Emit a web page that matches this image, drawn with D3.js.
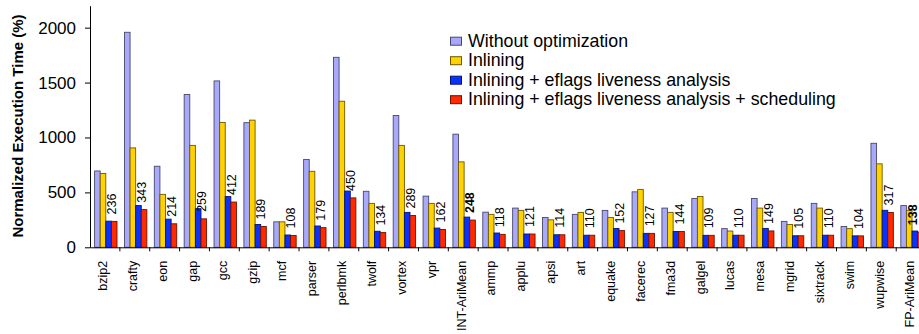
<!DOCTYPE html>
<html>
<head>
<meta charset="utf-8">
<script src="https://cdn.jsdelivr.net/npm/d3@7"></script>
<style>
  body { margin: 0; background: #fff; }
  svg { display: block; }
  text { font-family: "Liberation Sans", Arial, sans-serif; fill: #000; }
</style>
</head>
<body>
<svg id="chart" width="919" height="334"></svg>
<script>
// Benchmarks (SPEC CPU2000 integer + floating point, with arithmetic means)
const benchmarks = ["bzip2", "crafty", "eon", "gap", "gcc", "gzip", "mcf", "parser", "perlbmk",
  "twolf", "vortex", "vpr", "INT-AriMean", "ammp", "applu", "apsi", "art", "equake", "facerec",
  "fma3d", "galgel", "lucas", "mesa", "mgrid", "sixtrack", "swim", "wupwise", "FP-AriMean"];

const seriesNames = ["Without optimization", "Inlining", "Inlining + eflags liveness analysis",
  "Inlining + eflags liveness analysis + scheduling"];

// Normalized execution time (%) per configuration
const withoutOpt = [695, 1958, 738, 1392, 1515, 1135, 232, 800, 1730, 510, 1200, 466, 1030,
  320, 357, 272, 300, 336, 505, 357, 445, 170, 445, 236, 400, 190, 947, 380];
const inlining = [672, 905, 482, 928, 1137, 1158, 232, 692, 1330, 400, 928, 400, 778,
  300, 336, 250, 318, 272, 527, 318, 463, 148, 357, 208, 357, 170, 760, 337];
const inliningLiveness = [238, 380, 256, 352, 462, 208, 112, 194, 512, 146, 318, 175, 275,
  130, 121, 114, 110, 172, 127, 144, 109, 110, 172, 105, 110, 104, 337, 148];
const inliningLivenessSched = [236, 343, 214, 259, 412, 189, 108, 179, 450, 134, 289, 162, 248,
  118, 121, 114, 110, 152, 127, 144, 109, 110, 149, 105, 110, 104, 317, 138];

const seriesColors = ["#a9a9fb", "#ffd200", "#0a32ff", "#ff2a00"];
const meanNames = ["INT-AriMean", "FP-AriMean"];
const yTicks = [0, 500, 1000, 1500, 2000];

const seriesValues = [withoutOpt, inlining, inliningLiveness, inliningLivenessSched];

const W = 919;
const svg = d3.select("#chart");

const x = d3.scaleBand()
  .domain(benchmarks)
  .range([90, 90 + benchmarks.length * 29.86])
  .padding(0);

const xs = d3.scaleBand()
  .domain(d3.range(seriesNames.length))
  .range([4.6, 4.6 + 22.4]);

const y = d3.scaleLinear()
  .domain([0, 2200])
  .range([247.3, 5.7]);

// Bars
const groups = svg.append("g").attr("class", "bars")
  .selectAll("g")
  .data(seriesValues)
  .join("g")
  .attr("fill", (d, i) => seriesColors[i])
  .attr("stroke", (d, i) => d3.color(seriesColors[i]).darker(2.4))
  .attr("stroke-width", 0.9);

groups.each(function (vals, si) {
  d3.select(this).selectAll("rect")
    .data(vals.map((v, i) => ({ name: benchmarks[i], v })))
    .join("rect")
    .attr("x", d => x(d.name) + xs(si))
    .attr("y", d => y(d.v))
    .attr("width", xs.bandwidth())
    .attr("height", d => y(0) - y(d.v));
});

// Value labels for the fully optimized configuration (kept inside the right edge)
svg.append("g").attr("class", "value-labels")
  .selectAll("text")
  .data(benchmarks.map((name, i) => ({ name, v: inliningLivenessSched[i] })))
  .join("text")
  .attr("transform", d => {
    const cx = Math.min(x(d.name) + xs(3) + xs.bandwidth() / 2 - 2.4, W - 6);
    return `translate(${cx},${y(d.v) - 7}) rotate(-90)`;
  })
  .attr("dy", "0.35em")
  .attr("text-anchor", "start")
  .attr("font-size", "12.5px")
  .attr("font-weight", d => meanNames.includes(d.name) ? "bold" : "normal")
  .text(d => d.v);

// Y axis
const yAxis = svg.append("g")
  .attr("transform", `translate(${x.range()[0]},0)`)
  .call(d3.axisLeft(y).tickValues(yTicks).tickFormat(d3.format("d"))
    .tickSize(5).tickSizeOuter(0).tickPadding(9));
yAxis.select(".domain").attr("stroke", "#000");
yAxis.selectAll(".tick line").attr("stroke", "#000");
yAxis.selectAll(".tick text")
  .attr("font-size", "17px")
  .attr("font-family", "\"Liberation Sans\", Arial, sans-serif");

// X axis: category labels plus tick marks at band boundaries
const xAxis = svg.append("g")
  .attr("transform", `translate(0,${y(0)})`)
  .call(d3.axisBottom(x).tickSize(0).tickSizeOuter(0));
xAxis.select(".domain").attr("stroke", "#000");
xAxis.selectAll(".tick text")
  .attr("font-size", "12.5px")
  .attr("font-family", "\"Liberation Sans\", Arial, sans-serif")
  .attr("transform", "rotate(-90)")
  .attr("text-anchor", "end")
  .attr("x", -13.5)
  .attr("y", -2)
  .attr("dy", "0.35em");

xAxis.append("g").attr("class", "boundaries")
  .selectAll("line")
  .data(benchmarks)
  .join("line")
  .attr("x1", d => x(d) + x.bandwidth())
  .attr("x2", d => x(d) + x.bandwidth())
  .attr("y1", 0)
  .attr("y2", 4)
  .attr("stroke", "#000");

// Y axis title
svg.append("text")
  .attr("transform", "translate(18,126) rotate(-90)")
  .attr("text-anchor", "middle")
  .attr("dy", "0.35em")
  .attr("font-size", "15px")
  .attr("font-weight", "bold")
  .text("Normalized Execution Time (%)");

// Legend
const legend = svg.append("g").attr("class", "legend")
  .selectAll("g")
  .data(seriesNames)
  .join("g")
  .attr("transform", (d, i) => `translate(450,${46.7 + i * 19.5})`);
legend.append("rect")
  .attr("x", 0.5)
  .attr("y", -9.5)
  .attr("width", 11)
  .attr("height", 8)
  .attr("fill", (d, i) => seriesColors[i])
  .attr("stroke", (d, i) => d3.color(seriesColors[i]).darker(2.4))
  .attr("stroke-width", 1);
legend.append("text")
  .attr("x", 18)
  .attr("y", 0)
  .attr("font-size", "17.8px")
  .text(d => d);
</script>
</body>
</html>
